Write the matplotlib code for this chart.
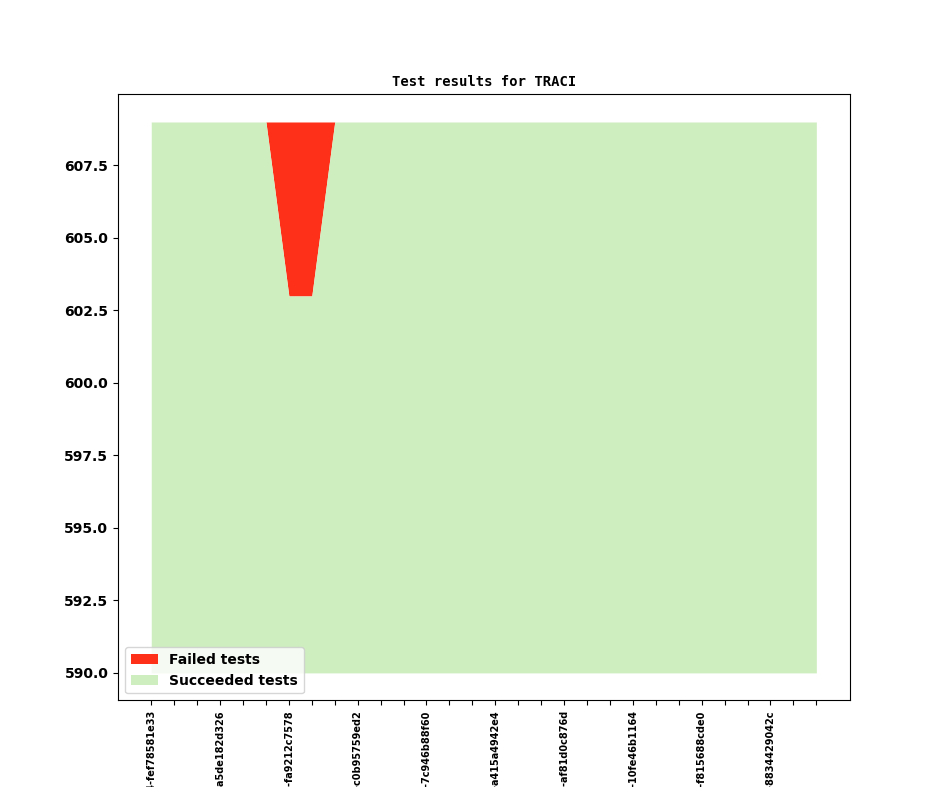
import numpy as np
import matplotlib
matplotlib.use("Agg")
import matplotlib.pyplot as plt

# data
builds = [
    "2019-02-04-fef78581e33", "", "",
    "2019-02-07-a5de182d326", "", "",
    "2019-02-10-fa9212c7578", "", "",
    "2019-02-13-c0b95759ed2", "", "",
    "2019-02-16-7c946b88f60", "", "",
    "2019-02-19-a415a4942e4", "", "",
    "2019-02-22-af81d0c876d", "", "",
    "2019-02-25-10fe46b1164", "", "",
    "2019-02-28-f815688cde0", "", "",
    "2019-03-03-8834429042c", "", "",
]
total_tests = [609] * 30
failed_tests = [0, 0, 0, 0, 0, 0, 6, 6, 0, 0,
                0, 0, 0, 0, 0, 0, 0, 0, 0, 0,
                0, 0, 0, 0, 0, 0, 0, 0, 0, 0]
lowest_shown = 590

x = np.arange(len(total_tests))
total = np.array(total_tests)
passed = total - np.array(failed_tests)

fig, ax = plt.subplots(figsize=(9.44, 7.87), dpi=100)

ax.fill_between(x, passed, total, color="#ff3019", linewidth=0, label="Failed tests")
ax.fill_between(x, lowest_shown, passed, color="#cfeec0", linewidth=0, label="Succeeded tests")

ax.set_title("Test results for TRACI", fontsize=10, fontweight="bold", family="DejaVu Sans Mono")
ax.set_xticks(x)
ax.set_xticklabels(builds, rotation=90, fontsize=7, fontweight="bold")
for lbl in ax.get_yticklabels():
    lbl.set_fontweight("bold")
    lbl.set_fontsize(10)

ax.legend(loc="lower left", prop={"weight": "bold", "size": 10})

fig.savefig("out.png", dpi=100)
